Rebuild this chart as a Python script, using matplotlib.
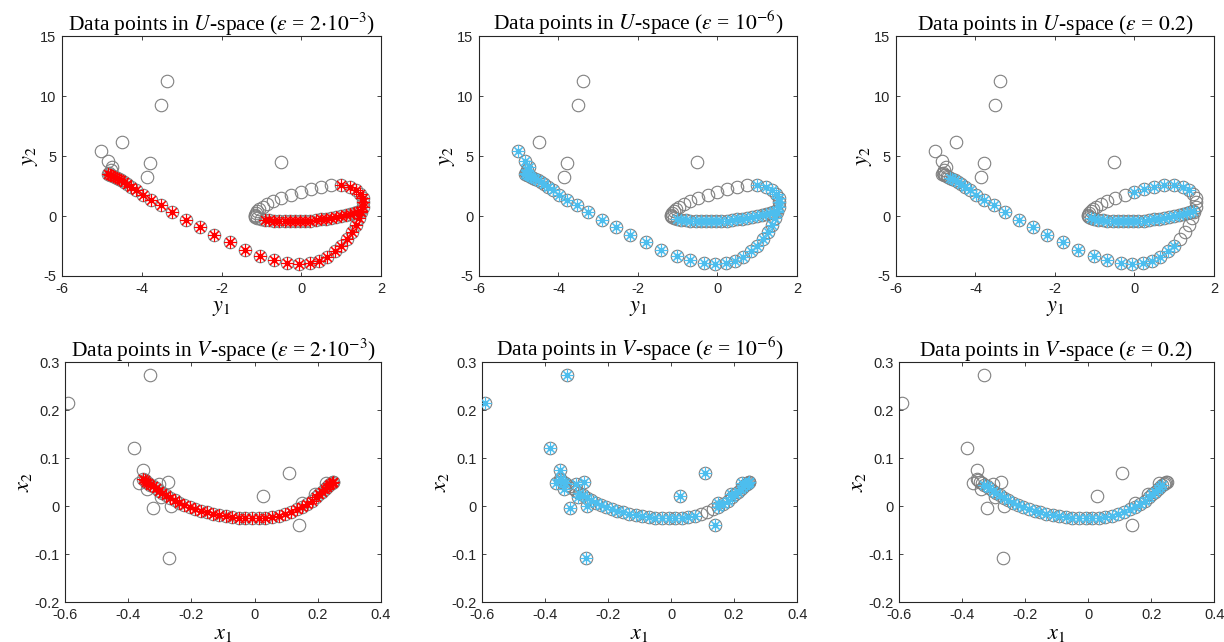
import numpy as np
import matplotlib
matplotlib.use("Agg")
import matplotlib.pyplot as plt

plt.rcParams['font.family'] = ['Liberation Sans', 'DejaVu Sans']
plt.rcParams['mathtext.fontset'] = 'stix'

# U-space: points along the curve, in order
u_curve = [
    (-5.02, 5.40), (-4.85, 4.62), (-4.75, 4.05), (-4.78, 3.80), (-4.82, 3.62),
    (-4.84, 3.50), (-4.80, 3.42), (-4.76, 3.38), (-4.72, 3.33), (-4.68, 3.26),
    (-4.63, 3.18), (-4.58, 3.08), (-4.52, 2.97), (-4.45, 2.83), (-4.36, 2.65),
    (-4.26, 2.45), (-4.14, 2.18), (-3.98, 1.72), (-3.78, 1.35), (-3.53, 0.90),
    (-3.25, 0.35), (-2.90, -0.30), (-2.55, -0.95), (-2.20, -1.55), (-1.80, -2.15),
    (-1.42, -2.80), (-1.03, -3.30), (-0.68, -3.70), (-0.35, -3.95), (-0.05, -4.00),
    (0.22, -3.95), (0.45, -3.75), (0.65, -3.40), (0.85, -2.95), (1.00, -2.50),
    (1.15, -1.90), (1.28, -1.35), (1.38, -0.75), (1.45, -0.20), (1.50, 0.30),
    (1.54, 0.75), (1.56, 1.15), (1.54, 1.50), (1.48, 1.85), (1.38, 2.15),
    (1.22, 2.42), (1.00, 2.58), (0.75, 2.55), (0.50, 2.42), (0.25, 2.22),
    (0.00, 2.00), (-0.25, 1.75), (-0.50, 1.50), (-0.70, 1.25), (-0.85, 1.00),
    (-0.97, 0.78), (-1.05, 0.58), (-1.10, 0.40), (-1.14, 0.25), (-1.16, 0.12),
    (-1.17, 0.02), (-1.15, -0.08), (-1.10, -0.16), (-1.02, -0.24), (-0.92, -0.30),
    (-0.80, -0.35), (-0.68, -0.38), (-0.55, -0.41), (-0.42, -0.43), (-0.29, -0.44),
    (-0.16, -0.44), (-0.03, -0.43), (0.10, -0.41), (0.23, -0.38), (0.36, -0.34),
    (0.49, -0.29), (0.62, -0.24), (0.75, -0.18), (0.88, -0.11), (1.00, -0.03),
    (1.11, 0.06), (1.22, 0.15), (1.32, 0.25), (1.40, 0.35), (1.47, 0.45),
]
u_outliers = [(-3.38, 11.28), (-3.52, 9.22), (-4.49, 6.19), (-3.79, 4.39),
              (-3.87, 3.22), (-0.52, 4.50)]

# V-space: points along the curve, then outliers
v_curve = [
    (-0.352, 0.056), (-0.348, 0.054), (-0.343, 0.051), (-0.337, 0.048), (-0.330, 0.044),
    (-0.322, 0.041), (-0.313, 0.037), (-0.303, 0.032), (-0.292, 0.027), (-0.280, 0.022),
    (-0.267, 0.017), (-0.253, 0.012), (-0.238, 0.007), (-0.222, 0.003), (-0.205, -0.002),
    (-0.188, -0.006), (-0.170, -0.010), (-0.151, -0.013), (-0.132, -0.016), (-0.112, -0.019),
    (-0.092, -0.021), (-0.071, -0.023), (-0.050, -0.024), (-0.029, -0.025), (-0.008, -0.025),
    (0.013, -0.025), (0.034, -0.024), (0.055, -0.022), (0.076, -0.020), (0.096, -0.016),
    (0.115, -0.012), (0.133, -0.007), (0.150, -0.002), (0.166, 0.005), (0.180, 0.011),
    (0.193, 0.018), (0.204, 0.024), (0.214, 0.030), (0.222, 0.035), (0.229, 0.039),
    (0.235, 0.043), (0.240, 0.046), (0.244, 0.048), (0.247, 0.050), (0.249, 0.051),
]
v_outliers = [(-0.591, 0.214), (-0.331, 0.274), (-0.383, 0.121), (-0.354, 0.074),
              (-0.365, 0.047), (-0.341, 0.035), (-0.302, 0.046), (-0.275, 0.051),
              (-0.296, 0.019), (-0.322, -0.005), (-0.266, 0.000), (-0.271, -0.108),
              (0.028, 0.020), (0.108, 0.068), (0.140, -0.040), (0.150, 0.007),
              (0.190, 0.026), (0.225, 0.048)]

# selected points per panel (index ranges into curve + outliers)
n_u = len(u_curve)
n_v = len(v_curve)
sel_u = {
    '2e-3': [(5, 47), (64, 85)],
    '1e-6': [(0, 47), (63, 85)],
    '0.2': [(10, 35), (44, 51), (62, 85)],
}
sel_v = {
    '2e-3': [(0, 45)],
    '1e-6': [(0, 4), (8, 29), (32, 45), (n_v, n_v + len(v_outliers))],
    '0.2': [(4, 41)],
}

eps_titles = {
    '2e-3': r'$2{\cdot}10^{-3}$',
    '1e-6': r'$10^{-6}$',
    '0.2': r'$0.2$',
}
eps_keys = ['2e-3', '1e-6', '0.2']
colors = {'2e-3': '#ff0000', '1e-6': '#4dbeee', '0.2': '#4dbeee'}

positions = [
    [(0.0507, 0.5701, 0.2606, 0.3738), (0.3913, 0.5701, 0.2598, 0.3738), (0.7320, 0.5701, 0.2598, 0.3738)],
    [(0.0531, 0.0623, 0.2582, 0.3738), (0.3938, 0.0623, 0.2574, 0.3738), (0.7345, 0.0623, 0.2574, 0.3738)],
]

fig = plt.figure(figsize=(12.24, 6.42), dpi=100)

def draw_panel(ax, pts, sel, color, space, eps, lims, ticks, labels, names):
    pts = np.array(pts)
    ax.plot(pts[:, 0], pts[:, 1], 'o', ms=9, mfc='none', mec='#808080', mew=0.8, zorder=2)
    idx = np.concatenate([np.arange(a, b) for a, b in sel])
    sx, sy = pts[idx, 0], pts[idx, 1]
    ax.plot(sx, sy, ls='none', marker=(8, 2, 0), ms=9, mec=color, mew=0.8, zorder=3)
    ax.plot(sx, sy, 'o', ms=3, mfc=color, mec=color, zorder=4)
    ax.set_xlim(lims[0])
    ax.set_ylim(lims[1])
    ax.set_xticks(ticks[0])
    ax.set_xticklabels(labels[0])
    ax.set_yticks(ticks[1])
    ax.set_yticklabels(labels[1])
    ax.tick_params(direction='in', length=3, width=0.6, top=True, right=True,
                   labelsize=10.5, colors='#262626', pad=4)
    for s in ax.spines.values():
        s.set_linewidth(0.8)
        s.set_color('#262626')
    ax.set_title(r'Data points in $%s$-space ($\varepsilon$ = %s)' % (space, eps_titles[eps]),
                 family='Liberation Serif', fontsize=15.5, pad=4)
    ax.set_xlabel(names[0], fontsize=16, labelpad=1)
    ax.set_ylabel(names[1], fontsize=16, labelpad=0)

u_pts = u_curve + u_outliers
v_pts = v_curve + v_outliers
for j, k in enumerate(eps_keys):
    ax = fig.add_axes(positions[0][j])
    draw_panel(ax, u_pts, sel_u[k], colors[k], 'U', k,
               [(-6, 2), (-5, 15)],
               [[-6, -4, -2, 0, 2], [-5, 0, 5, 10, 15]],
               [['-6', '-4', '-2', '0', '2'], ['-5', '0', '5', '10', '15']],
               [r'$y_1$', r'$y_2$'])
    ax = fig.add_axes(positions[1][j])
    draw_panel(ax, v_pts, sel_v[k], colors[k], 'V', k,
               [(-0.6, 0.4), (-0.2, 0.3)],
               [[-0.6, -0.4, -0.2, 0, 0.2, 0.4], [-0.2, -0.1, 0, 0.1, 0.2, 0.3]],
               [['-0.6', '-0.4', '-0.2', '0', '0.2', '0.4'], ['-0.2', '-0.1', '0', '0.1', '0.2', '0.3']],
               [r'$x_1$', r'$x_2$'])

fig.savefig('out.png', dpi=100)
